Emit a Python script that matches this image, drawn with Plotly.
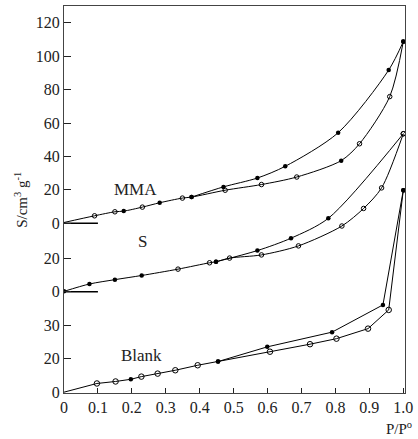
import plotly.graph_objects as go

# ---------------- data ----------------
# Relative pressure P/P0 and adsorbed amount for each sample; each curve has
# its own zero on the shared, offset ordinate.
mma_ads_x = [0.0, 0.09, 0.15, 0.176, 0.231, 0.282, 0.349, 0.376, 0.475, 0.582, 0.686, 0.817, 0.871, 0.960, 1.0]
mma_ads_y = [0.5, 4.5, 6.9, 7.3, 9.7, 12.3, 15.1, 15.7, 19.8, 23.2, 27.7, 37.5, 47.6, 75.8, 108.7]
mma_ads_k = ["", "o", "o", "f", "o", "f", "o", "f", "o", "o", "o", "f", "o", "o", "f"]
mma_des_x = [0.376, 0.470, 0.570, 0.652, 0.808, 0.957, 1.0]
mma_des_y = [15.7, 21.8, 27.1, 34.1, 54.2, 91.7, 108.7]
mma_des_k = ["f", "f", "f", "f", "f", "f", "f"]

s_ads_x = [0.0, 0.075, 0.150, 0.229, 0.336, 0.429, 0.448, 0.488, 0.582, 0.691, 0.819, 0.883, 0.936, 1.0]
s_ads_y = [0.3, 4.7, 7.3, 9.8, 13.6, 17.4, 18.0, 20.2, 22.1, 27.5, 39.4, 49.9, 62.2, 94.6]
s_ads_k = ["f", "f", "f", "f", "o", "o", "f", "o", "o", "o", "o", "o", "o", "o"]
s_des_x = [0.448, 0.570, 0.669, 0.779, 1.0]
s_des_y = [18.0, 24.7, 32.1, 44.0, 94.6]
s_des_k = ["f", "f", "f", "f", "o"]

blank_ads_x = [0.0, 0.097, 0.152, 0.197, 0.228, 0.276, 0.328, 0.394, 0.454, 0.607, 0.725, 0.803, 0.896, 0.957, 1.0]
blank_ads_y = [0.0, 5.2, 6.4, 7.7, 9.3, 11.1, 13.1, 16.1, 18.3, 24.2, 28.7, 32.0, 38.0, 49.2, 120.8]
blank_ads_k = ["", "o", "o", "f", "o", "o", "o", "o", "f", "o", "o", "o", "o", "o", "f"]
blank_des_x = [0.454, 0.599, 0.790, 0.940, 1.0]
blank_des_y = [18.3, 27.1, 35.9, 52.2, 120.8]
blank_des_k = ["f", "f", "f", "f", "f"]

# zero-baseline stubs drawn at the start of MMA and S
stub_x = [0.0, 0.1]
stub_y = [0.0, 0.0]

# offsets of each curve's zero on the shared axis
off_blank, off_s, off_mma = 0, 60, 101

# tick labels for each block
blank_tick_vals = [0, 20, 40]
blank_tick_text = ["0", "20", "30"]
s_tick_vals = [0, 20]
s_tick_text = ["0", "20"]
mma_tick_vals = [0, 20, 40, 60, 80, 100, 120]
mma_tick_text = ["0", "20", "40", "60", "80", "100", "120"]

x_tick_vals = [0, 0.1, 0.2, 0.3, 0.4, 0.5, 0.6, 0.7, 0.8, 0.9, 1.0]
x_tick_text = ["0", "0.1", "0.2", "0.3", "0.4", "0.5", "0.6", "0.7", "0.8", "0.9", "1.0"]

# ---------------- figure ----------------
FONT = "Liberation Serif, Times New Roman, serif"
fig = go.Figure()


def add_branch(xs, ys, kinds, off, shape, open_size):
    fig.add_trace(go.Scatter(
        x=xs, y=[v + off for v in ys], mode="lines",
        line=dict(color="black", width=1, shape=shape, smoothing=0.8),
        hoverinfo="skip", showlegend=False))
    fx = [x for x, k in zip(xs, kinds) if k == "f"]
    fy = [y + off for y, k in zip(ys, kinds) if k == "f"]
    ox = [x for x, k in zip(xs, kinds) if k == "o"]
    oy = [y + off for y, k in zip(ys, kinds) if k == "o"]
    fig.add_trace(go.Scatter(
        x=fx, y=fy, mode="markers",
        marker=dict(symbol="circle", size=4.5, color="black"),
        showlegend=False))
    fig.add_trace(go.Scatter(
        x=ox, y=oy, mode="markers",
        marker=dict(symbol="circle-open", size=open_size, color="black",
                    line=dict(width=1, color="black")),
        showlegend=False))


add_branch(mma_ads_x, mma_ads_y, mma_ads_k, off_mma, "spline", 4.5)
add_branch(mma_des_x, mma_des_y, mma_des_k, off_mma, "spline", 4.5)
add_branch(s_ads_x, s_ads_y, s_ads_k, off_s, "spline", 4.5)
add_branch(s_des_x, s_des_y, s_des_k, off_s, "spline", 4.5)
add_branch(blank_ads_x, blank_ads_y, blank_ads_k, off_blank, "linear", 5.5)
add_branch(blank_des_x, blank_des_y, blank_des_k, off_blank, "linear", 5.5)

for off in (off_mma, off_s):
    fig.add_trace(go.Scatter(
        x=stub_x, y=[v + off for v in stub_y], mode="lines",
        line=dict(color="black", width=1.5), showlegend=False))

y_vals = ([v + off_blank for v in blank_tick_vals] + [v + off_s for v in s_tick_vals]
          + [v + off_mma for v in mma_tick_vals])
y_text = blank_tick_text + s_tick_text + mma_tick_text

fig.update_layout(
    width=418, height=439,
    margin=dict(l=64, r=10, t=5, b=46),
    paper_bgcolor="white", plot_bgcolor="white",
    font=dict(family=FONT, size=16, color="black"),
    showlegend=False,
    xaxis=dict(range=[0, 1.005], tickvals=x_tick_vals, ticktext=x_tick_text,
               ticks="inside", ticklen=5, tickcolor="#222", showgrid=False,
               zeroline=False, showline=True, linecolor="#444", linewidth=1,
               mirror=True, tickfont=dict(family=FONT, size=16, color="#222")),
    yaxis=dict(range=[-0.5, 231], tickvals=y_vals, ticktext=y_text,
               ticks="inside", ticklen=7, tickcolor="#222", showgrid=False,
               zeroline=False, showline=True, linecolor="#444", linewidth=1,
               mirror=True, tickfont=dict(family=FONT, size=16, color="#222")),
    annotations=[
        dict(text="MMA", x=0.211, y=121.4, xref="x", yref="y", showarrow=False,
             font=dict(family=FONT, size=17, color="#222")),
        dict(text="S", x=0.231, y=89.9, xref="x", yref="y", showarrow=False,
             font=dict(family=FONT, size=17, color="#222")),
        dict(text="Blank", x=0.228, y=22.0, xref="x", yref="y", showarrow=False,
             font=dict(family=FONT, size=17, color="#222")),
        dict(text="S/cm<sup>3</sup> g<sup>-1</sup>", x=-0.128, y=0.50, xref="paper",
             yref="paper", showarrow=False, textangle=-90,
             xanchor="center", yanchor="middle",
             font=dict(family=FONT, size=15, color="#222")),
        dict(text="P/P<sup>o</sup>", x=0.981, y=-0.09, xref="paper", yref="paper",
             showarrow=False, xanchor="center", yanchor="middle",
             font=dict(family=FONT, size=15, color="#222")),
    ],
)

fig.write_html("out.html")
